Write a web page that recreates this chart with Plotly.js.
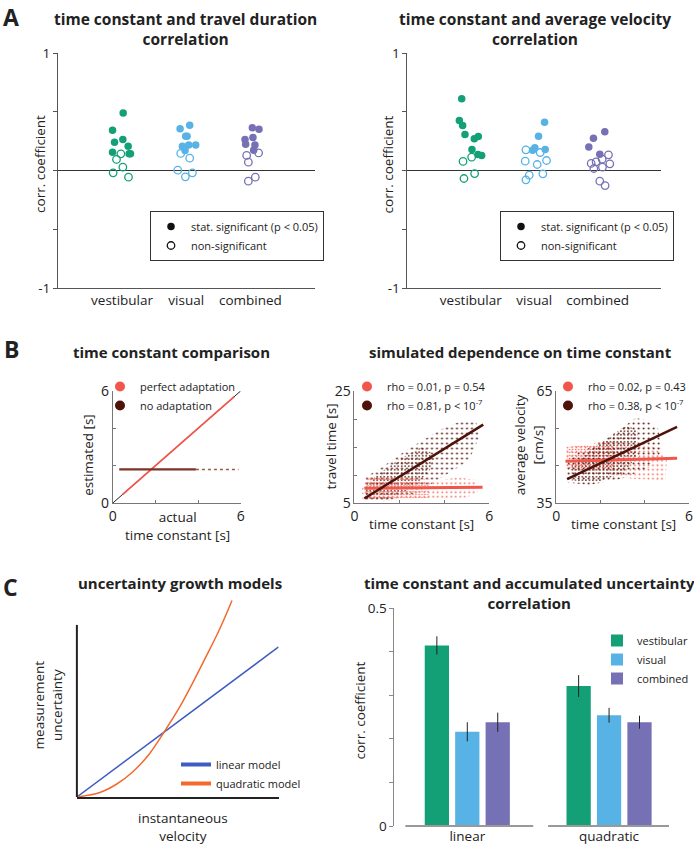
<!DOCTYPE html>
<html><head><meta charset="utf-8">
<script src="https://cdn.plot.ly/plotly-3.0.1.min.js"></script>
<style>html,body{margin:0;padding:0;background:#fff}#chart{width:694px;height:845px}</style>
</head><body><div id="chart"></div>
<script>
// ---------------- DATA ----------------
const conditions = ['vestibular', 'visual', 'combined'];

// Panel A left: time constant vs travel duration (x = jittered condition index, y = corr. coefficient)
const durVestSigX = [1.017, 0.851, 1.012, 0.882, 1.095, 0.851, 1.110, 1.131];
const durVestSigY = [0.49, 0.343, 0.264, 0.241, 0.207, 0.156, 0.142, 0.142];
const durVestNsX  = [0.981, 0.913, 1.012, 0.861, 1.100];
const durVestNsY  = [0.142, 0.094, 0.028, -0.02, -0.057];
const durVisSigX  = [1.904, 2.054, 1.992, 2.013, 1.940, 2.039, 2.148, 1.982];
const durVisSigY  = [0.355, 0.386, 0.292, 0.292, 0.207, 0.216, 0.218, 0.170];
const durVisNsX   = [1.914, 2.054, 1.868, 2.096, 1.987];
const durVisNsY   = [0.145, 0.105, 0.003, -0.02, -0.054];
const durCombSigX = [3.030, 3.134, 2.916, 3.040, 2.926, 3.071, 3.051];
const durCombSigY = [0.363, 0.352, 0.264, 0.281, 0.224, 0.216, 0.173];
const durCombNsX  = [2.942, 3.128, 2.968, 3.077, 2.968];
const durCombNsY  = [0.128, 0.150, 0.071, -0.057, -0.091];

// Panel A right: time constant vs average velocity
const velVestSigX = [0.856, 0.819, 0.871, 0.908, 1.055, 1.118, 1.018, 1.113, 1.171];
const velVestSigY = [0.61, 0.426, 0.383, 0.306, 0.270, 0.289, 0.179, 0.136, 0.128];
const velVestNsX  = [0.877, 1.013, 1.060, 0.892];
const velVestNsY  = [0.077, 0.113, -0.026, -0.068];
const velVisSigX  = [2.163, 2.068, 2.010, 1.974, 2.173];
const velVisSigY  = [0.411, 0.292, 0.193, 0.173, 0.179];
const velVisNsX   = [1.869, 2.094, 1.858, 2.194, 2.047, 1.921, 2.136, 1.869];
const velVisNsY   = [0.176, 0.153, 0.079, 0.085, 0.051, -0.040, -0.028, -0.079];
const velCombSigX = [3.113, 2.934, 2.861, 3.034];
const velCombSigY = [0.329, 0.275, 0.199, 0.139];
const velCombNsX  = [3.171, 2.898, 2.976, 3.071, 3.192, 2.940, 3.076, 3.034, 3.118];
const velCombNsY  = [0.133, 0.060, 0.074, 0.096, 0.057, 0.017, 0.028, -0.091, -0.128];

// Panel B left: estimated vs actual time constant
const identityX = [0, 6], identityY = [0, 6];
const perfectX = [0.45, 5.7], perfectY = [0.45, 5.7];
const noAdaptDenseX = [0.3, 3.9], noAdaptDenseY = [1.8, 1.8];
const noAdaptSparseX = [3.9, 5.9], noAdaptSparseY = [1.8, 1.8];

// Panel B middle: travel time vs time constant (cloud outlines, dense cores, fits)
const ttPerfCloudX = [0.4, 0.45, 0.6, 1.56, 2.74, 3.8, 4.6, 5.4, 5.5, 5.0, 3.33, 1.56, 0.6, 0.4];
const ttPerfCloudY = [6.2, 8.5, 9.8, 9.9, 9.4, 9.0, 9.6, 9.1, 7.0, 6.0, 5.6, 5.6, 5.8, 6.2];
const ttPerfCoreX = [0.5, 0.55, 1.5, 2.7, 3.3, 3.3, 1.5, 0.5];
const ttPerfCoreY = [5.8, 9.3, 9.6, 9.2, 8.5, 5.8, 5.5, 5.8];
const ttNoCloudX = [0.37, 1.33, 2.74, 3.93, 5.1, 5.55, 5.4, 4.67, 3.78, 2.3, 1.26, 0.52, 0.35, 0.37];
const ttNoCloudY = [5.6, 5.3, 6.7, 9.7, 12.6, 16.8, 19.8, 19.5, 18.0, 14.4, 11.5, 9.7, 7.5, 5.6];
const ttNoCoreX = [0.45, 1.4, 2.5, 3.3, 3.6, 3.0, 2.0, 1.0, 0.45, 0.45];
const ttNoCoreY = [5.7, 5.5, 7.5, 10.5, 13.5, 15.0, 12.8, 10.0, 8.0, 5.7];
const ttPerfFitX = [0.44, 5.7],  ttPerfFitY = [7.65, 7.8];
const ttNoFitX   = [0.44, 5.73], ttNoFitY   = [5.8, 19.0];

// Panel B right: average velocity vs time constant
const avPerfCloudX = [0.4, 0.45, 1.47, 2.37, 3.3, 4.6, 5.0, 4.93, 3.4, 2.2, 0.64, 0.4];
const avPerfCloudY = [44.5, 50.0, 50.8, 51.8, 51.0, 49.7, 46.4, 41.0, 41.5, 43.0, 43.8, 44.5];
const avPerfCoreX = [0.5, 0.5, 1.5, 2.4, 2.8, 2.5, 1.5, 0.5];
const avPerfCoreY = [44.5, 50.0, 50.6, 51.2, 48.5, 44.0, 43.8, 44.5];
const avNoCloudX = [0.5, 1.5, 2.96, 4.2, 4.78, 4.6, 4.03, 3.58, 2.83, 1.93, 0.64, 0.4, 0.5];
const avNoCloudY = [40.5, 39.8, 41.5, 44.5, 49.0, 55.0, 57.2, 57.8, 54.5, 51.0, 47.4, 44.0, 40.5];
const avNoCoreX = [0.7, 1.8, 3.0, 3.6, 3.7, 3.2, 2.5, 1.5, 0.7, 0.7];
const avNoCoreY = [41.0, 40.5, 43.0, 47.0, 54.0, 56.0, 53.0, 49.0, 45.0, 41.0];
const avPerfFitX = [0.42, 5.46], avPerfFitY = [46.2, 47.0];
const avNoFitX   = [0.49, 5.46], avNoFitY   = [41.4, 55.4];

// Panel C left: uncertainty growth models
const linModelX = [0, 1], linModelY = [0, 1];
const quadModelX = [0, 0.114, 0.196, 0.279, 0.361, 0.436, 0.51, 0.576, 0.642, 0.708, 0.769];
const quadModelY = [0, 0.03, 0.085, 0.17, 0.29, 0.44, 0.6, 0.765, 0.94, 1.12, 1.31];

// Panel C right: accumulated uncertainty correlation
const models = ['linear', 'quadratic'];
const corrVest = [0.414, 0.321], errVest = [0.021, 0.025];
const corrVis  = [0.216, 0.254], errVis  = [0.022, 0.017];
const corrComb = [0.238, 0.238], errComb = [0.022, 0.015];

// ---------------- STYLE / LAYOUT ----------------
const W = 694, H = 845;
const fx = p => p / W, fy = p => 1 - p / H;
const FONT = '"Open Sans", sans-serif';
const cVest = '#13a077', cVis = '#57b2e6', cComb = '#7671b5';
const cRed = '#f2554a', cDark = '#4d130b';
const data = [];

function pts(x, y, color, filled, xa, ya) {
  data.push({type: 'scatter', mode: 'markers', x, y, xaxis: xa, yaxis: ya, showlegend: false, hoverinfo: 'skip',
    marker: {size: 7.5, color: color, symbol: filled ? 'circle' : 'circle-open', line: {color: color, width: filled ? 0 : 1.3}}});
}
pts(durVestSigX, durVestSigY, cVest, true, 'x', 'y');
pts(durVestNsX, durVestNsY, cVest, false, 'x', 'y');
pts(durVisSigX, durVisSigY, cVis, true, 'x', 'y');
pts(durVisNsX, durVisNsY, cVis, false, 'x', 'y');
pts(durCombSigX, durCombSigY, cComb, true, 'x', 'y');
pts(durCombNsX, durCombNsY, cComb, false, 'x', 'y');
pts(velVestSigX, velVestSigY, cVest, true, 'x2', 'y2');
pts(velVestNsX, velVestNsY, cVest, false, 'x2', 'y2');
pts(velVisSigX, velVisSigY, cVis, true, 'x2', 'y2');
pts(velVisNsX, velVisNsY, cVis, false, 'x2', 'y2');
pts(velCombSigX, velCombSigY, cComb, true, 'x2', 'y2');
pts(velCombNsX, velCombNsY, cComb, false, 'x2', 'y2');

// legend entries for panel A
['legend', 'legend2'].forEach((lg, i) => {
  const xa = i ? 'x2' : 'x', ya = i ? 'y2' : 'y';
  data.push({type: 'scatter', mode: 'markers', x: [null], y: [null], xaxis: xa, yaxis: ya, legend: lg,
    name: 'stat. significant (p &lt; 0.05)', marker: {size: 7.5, color: '#111', symbol: 'circle'}});
  data.push({type: 'scatter', mode: 'markers', x: [null], y: [null], xaxis: xa, yaxis: ya, legend: lg,
    name: 'non-significant', marker: {size: 7.5, color: '#111', symbol: 'circle-open', line: {width: 1.3}}});
});

// Panel B left
data.push({type: 'scatter', mode: 'lines', x: identityX, y: identityY, xaxis: 'x3', yaxis: 'y3', showlegend: false,
  line: {color: '#222', width: 1}, hoverinfo: 'skip'});
data.push({type: 'scatter', mode: 'lines', x: perfectX, y: perfectY, xaxis: 'x3', yaxis: 'y3', showlegend: false,
  line: {color: cRed, width: 1.8}, hoverinfo: 'skip'});
data.push({type: 'scatter', mode: 'lines', x: noAdaptDenseX, y: noAdaptDenseY, xaxis: 'x3', yaxis: 'y3', showlegend: false,
  line: {color: '#7a3326', width: 2.2}, hoverinfo: 'skip'});
data.push({type: 'scatter', mode: 'lines', x: noAdaptSparseX, y: noAdaptSparseY, xaxis: 'x3', yaxis: 'y3', showlegend: false,
  line: {color: '#9a5a4e', width: 1.5, dash: 'dot'}, hoverinfo: 'skip'});
data.push({type: 'scatter', mode: 'markers', x: [null], y: [null], xaxis: 'x3', yaxis: 'y3', legend: 'legend3',
  name: 'perfect adaptation', marker: {size: 10, color: cRed}});
data.push({type: 'scatter', mode: 'markers', x: [null], y: [null], xaxis: 'x3', yaxis: 'y3', legend: 'legend3',
  name: 'no adaptation', marker: {size: 10, color: cDark}});

function cloud(x, y, color, xa, ya, size, sol) {
  data.push({type: 'scatter', mode: 'lines', x, y, xaxis: xa, yaxis: ya, fill: 'toself', showlegend: false, hoverinfo: 'skip',
    line: {width: 0, color: color}, fillcolor: 'rgba(0,0,0,0)',
    fillpattern: {shape: '.', fgcolor: color, bgcolor: 'rgba(0,0,0,0)', size: size, solidity: sol, fillmode: 'replace'}});
}
function fit(x, y, color, w, xa, ya, shape) {
  data.push({type: 'scatter', mode: 'lines', x, y, xaxis: xa, yaxis: ya, showlegend: false, hoverinfo: 'skip',
    line: {color: color, width: w, shape: shape || 'linear'}});
}
const cRedDots = '#f4675b', cDarkDots = '#5a1a10';
// Panel B middle
cloud(ttNoCloudX, ttNoCloudY, cDarkDots, 'x4', 'y4', 5, 0.12);
cloud(ttNoCoreX, ttNoCoreY, cDarkDots, 'x4', 'y4', 3.5, 0.18);
cloud(ttPerfCloudX, ttPerfCloudY, cRedDots, 'x4', 'y4', 4.5, 0.14);
cloud(ttPerfCoreX, ttPerfCoreY, cRedDots, 'x4', 'y4', 3, 0.2);
fit(ttPerfFitX, ttPerfFitY, cRed, 3, 'x4', 'y4');
fit(ttNoFitX, ttNoFitY, cDark, 2.6, 'x4', 'y4');
data.push({type: 'scatter', mode: 'markers', x: [null], y: [null], xaxis: 'x4', yaxis: 'y4', legend: 'legend4',
  name: 'rho = 0.01, p = 0.54', marker: {size: 10, color: cRed}});
data.push({type: 'scatter', mode: 'markers', x: [null], y: [null], xaxis: 'x4', yaxis: 'y4', legend: 'legend4',
  name: 'rho = 0.81, p &lt; 10<sup>-7</sup>', marker: {size: 10, color: cDark}});
// Panel B right
cloud(avPerfCloudX, avPerfCloudY, cRedDots, 'x5', 'y5', 4.5, 0.14);
cloud(avPerfCoreX, avPerfCoreY, cRedDots, 'x5', 'y5', 3, 0.22);
cloud(avNoCloudX, avNoCloudY, cDarkDots, 'x5', 'y5', 5, 0.12);
cloud(avNoCoreX, avNoCoreY, cDarkDots, 'x5', 'y5', 3.5, 0.18);
fit(avPerfFitX, avPerfFitY, cRed, 3, 'x5', 'y5');
fit(avNoFitX, avNoFitY, cDark, 2.6, 'x5', 'y5');
data.push({type: 'scatter', mode: 'markers', x: [null], y: [null], xaxis: 'x5', yaxis: 'y5', legend: 'legend5',
  name: 'rho = 0.02, p = 0.43', marker: {size: 10, color: cRed}});
data.push({type: 'scatter', mode: 'markers', x: [null], y: [null], xaxis: 'x5', yaxis: 'y5', legend: 'legend5',
  name: 'rho = 0.38, p &lt; 10<sup>-7</sup>', marker: {size: 10, color: cDark}});

// Panel C left
const cBlue = '#3e5cc2', cOrange = '#f26a2c';
fit(linModelX, linModelY, cBlue, 1.5, 'x6', 'y6');
fit(quadModelX, quadModelY, cOrange, 1.5, 'x6', 'y6', 'spline');
data.push({type: 'scatter', mode: 'lines', x: [null], y: [null], xaxis: 'x6', yaxis: 'y6', legend: 'legend6',
  name: 'linear model', line: {color: cBlue, width: 4}});
data.push({type: 'scatter', mode: 'lines', x: [null], y: [null], xaxis: 'x6', yaxis: 'y6', legend: 'legend6',
  name: 'quadratic model', line: {color: cOrange, width: 4}});

// Panel C right
[[corrVest, errVest, cVest, 'vestibular'], [corrVis, errVis, cVis, 'visual'], [corrComb, errComb, cComb, 'combined']]
  .forEach(([v, e, c, n]) => {
    data.push({type: 'bar', x: models, y: v, name: n, xaxis: 'x7', yaxis: 'y7', legend: 'legend7',
      marker: {color: c, line: {width: 0}},
      error_y: {type: 'data', array: e, visible: true, color: '#222', thickness: 1, width: 0}});
  });

const tf = {family: FONT, size: 13.5, color: '#222'};
const bTick = {family: FONT, size: 14, color: '#222'};
function aAxis(dom) {
  return {x: {domain: dom, range: [0, 4], showline: true, linecolor: '#555', linewidth: 1, ticks: '', tickvals: [1, 2, 3],
      ticktext: conditions, tickfont: tf, showgrid: false, zeroline: false, fixedrange: true},
    y: {domain: [fy(288), fy(53)], range: [-1, 1], showline: true, linecolor: '#555', linewidth: 1, ticks: 'outside',
      ticklen: 4, tickcolor: '#555', tickvals: [-1, 1], ticktext: ['-1', '1'], tickfont: tf,
      minor: {tickvals: [-0.5, 0, 0.5], ticks: 'outside', ticklen: 4, tickcolor: '#555', showgrid: false},
      showgrid: false, zeroline: true, zerolinecolor: '#333', zerolinewidth: 1, fixedrange: true}};
}
function bAxis(xdom, yr, ymin) {
  return {x: {domain: xdom, range: [0, 6], showline: true, linecolor: '#777', ticks: 'inside', ticklen: 3, tickcolor: '#777',
      tickvals: [0, 6], ticktext: ['0', '6'], tickfont: bTick, showgrid: false, zeroline: false,
      minor: {tickvals: [2, 4], ticks: 'inside', ticklen: 3, tickcolor: '#777', showgrid: false}},
    y: {domain: [fy(503), fy(391)], range: yr, showline: true, linecolor: '#777', ticks: 'inside', ticklen: 3, tickcolor: '#777',
      tickvals: yr, ticktext: yr.map(String), tickfont: bTick, showgrid: false, zeroline: false,
      minor: {tickvals: ymin, ticks: 'inside', ticklen: 3, tickcolor: '#777', showgrid: false}}};
}
const A1 = aAxis([fx(58), fx(315)]), A2 = aAxis([fx(408), fx(662)]);
const B1 = bAxis([fx(113), fx(241)], [0, 6], [2, 4]);
const B2 = bAxis([fx(355), fx(490)], [5, 25], [10, 15, 20]);
const B3 = bAxis([fx(557), fx(690)], [35, 65], [45, 55]);

function ann(text, px, py, size, opts) {
  return Object.assign({text, x: fx(px), y: fy(py), xref: 'paper', yref: 'paper', showarrow: false,
    xanchor: 'center', yanchor: 'middle', font: {family: FONT, size: size, color: '#222'}}, opts || {});
}
const annotations = [
  ann('<b>A</b>', 1, 17, 23, {xanchor: 'left'}), ann('<b>B</b>', 2, 349, 23, {xanchor: 'left'}),
  ann('<b>C</b>', 1, 587, 23, {xanchor: 'left'}),
  ann('<b>time constant and travel duration<br>correlation</b>', 186, 28.5, 15.5),
  ann('<b>time constant and average velocity<br>correlation</b>', 536, 28.5, 15.5),
  ann('<b>time constant comparison</b>', 172, 352, 15),
  ann('<b>simulated dependence on time constant</b>', 521, 352, 15),
  ann('<b>uncertainty growth models</b>', 180, 583, 15),
  ann('<b>time constant and accumulated uncertainty<br>correlation</b>', 530, 593, 15),
  ann('corr. coefficient', 40, 164, 13.5, {textangle: -90}),
  ann('corr. coefficient', 389, 164, 13.5, {textangle: -90}),
  ann('estimated [s]', 88, 455, 13.5, {textangle: -90}),
  ann('actual<br>time constant [s]', 178, 526, 13.5),
  ann('travel time [s]', 331, 447, 13.5, {textangle: -90}),
  ann('time constant [s]', 422, 524, 13.5),
  ann('average velocity<br>[cm/s]', 530, 445, 13.5, {textangle: -90}),
  ann('time constant [s]', 624, 524, 13.5),
  ann('measurement<br>uncertainty', 48.5, 705, 13.5, {textangle: -90}),
  ann('instantaneous<br>velocity', 183, 827, 13.5),
  ann('corr. coefficient', 361, 710, 13.5, {textangle: -90})
];

const lgBase = {xanchor: 'left', yanchor: 'top', bgcolor: 'rgba(0,0,0,0)', font: {family: FONT, size: 11, color: '#222'},
  tracegroupgap: 0, itemclick: false, itemdoubleclick: false};
const layout = {
  width: W, height: H, margin: {l: 0, r: 0, t: 0, b: 0}, paper_bgcolor: '#fff', plot_bgcolor: 'rgba(0,0,0,0)',
  font: {family: FONT, color: '#222'}, barmode: 'group', bargap: 0.356, bargroupgap: 0.203,
  xaxis: Object.assign(A1.x, {anchor: 'y'}), yaxis: Object.assign(A1.y, {anchor: 'x'}),
  xaxis2: Object.assign(A2.x, {anchor: 'y2'}), yaxis2: Object.assign(A2.y, {anchor: 'x2'}),
  xaxis3: Object.assign(B1.x, {anchor: 'y3'}), yaxis3: Object.assign(B1.y, {anchor: 'x3'}),
  xaxis4: Object.assign(B2.x, {anchor: 'y4'}), yaxis4: Object.assign(B2.y, {anchor: 'x4'}),
  xaxis5: Object.assign(B3.x, {anchor: 'y5'}), yaxis5: Object.assign(B3.y, {anchor: 'x5'}),
  xaxis6: {domain: [fx(77), fx(279)], range: [0, 1], anchor: 'y6', showline: true, linecolor: '#222', linewidth: 2,
    ticks: '', showticklabels: false, showgrid: false, zeroline: false},
  yaxis6: {domain: [fy(797), fy(600)], range: [0, 1.313], anchor: 'x6', showline: false, ticks: '', showticklabels: false,
    showgrid: false, zeroline: false},
  xaxis7: {domain: [fx(395), fx(670)], range: [-0.514, 1.423], anchor: 'y7', showline: false, ticks: '',
    tickfont: tf, showgrid: false, zeroline: false, type: 'category'},
  yaxis7: {domain: [fy(826), fy(608)], range: [0, 0.5], anchor: 'x7', showline: true, linecolor: '#888', linewidth: 1,
    ticks: 'outside', ticklen: 4, tickcolor: '#888', tickvals: [0, 0.5], ticktext: ['0', '0.5'], tickfont: tf,
    minor: {tickvals: [0.1, 0.2, 0.3, 0.4], ticks: 'outside', ticklen: 4, tickcolor: '#888', showgrid: false},
    showgrid: false, zeroline: false},
  legend: Object.assign({}, lgBase, {x: fx(150), y: fy(211), bgcolor: '#fff', bordercolor: '#333', borderwidth: 1}),
  legend2: Object.assign({}, lgBase, {x: fx(500), y: fy(211), bgcolor: '#fff', bordercolor: '#333', borderwidth: 1}),
  legend3: Object.assign({}, lgBase, {x: fx(100), y: fy(372)}),
  legend4: Object.assign({}, lgBase, {x: fx(347), y: fy(372)}),
  legend5: Object.assign({}, lgBase, {x: fx(548), y: fy(372)}),
  legend6: Object.assign({}, lgBase, {x: fx(176), y: fy(750)}),
  legend7: Object.assign({}, lgBase, {x: fx(598), y: fy(626)}),
  shapes: [
    {type: 'line', xref: 'paper', yref: 'y6', x0: fx(77), x1: fx(77), y0: 0, y1: 1.147, line: {color: '#222', width: 2}},
    {type: 'line', xref: 'x7', yref: 'paper', x0: -0.437, x1: 0.465, y0: fy(826), y1: fy(826), line: {color: '#999', width: 2}},
    {type: 'line', xref: 'x7', yref: 'paper', x0: 0.570, x1: 1.423, y0: fy(826), y1: fy(826), line: {color: '#999', width: 2}}
  ],
  annotations
};
Plotly.newPlot('chart', data, layout, {displayModeBar: false, staticPlot: true});
</script></body></html>
